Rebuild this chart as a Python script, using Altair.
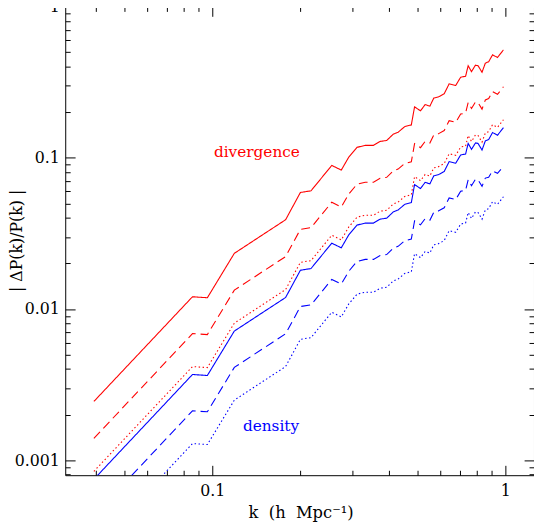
import altair as alt
import pandas as pd

# ---- data ----
k = [0.03945, 0.0856, 0.0962, 0.1189, 0.1779, 0.1998, 0.2172, 0.2556, 0.2755, 0.2921,
     0.3118, 0.3325, 0.3548, 0.3737, 0.3936, 0.4143, 0.4305, 0.4535, 0.4776, 0.4899,
     0.5133, 0.5324, 0.5525, 0.5700, 0.5902, 0.6183, 0.6428, 0.6769, 0.7037, 0.7315,
     0.7464, 0.7663, 0.7906, 0.8066, 0.8322, 0.8543, 0.8768, 0.9042, 0.9400, 0.9847]

div_solid = [0.002444, 0.01205, 0.01187, 0.02336, 0.03898, 0.05904, 0.06058, 0.08919, 0.08308, 0.1011,
             0.1175, 0.1211, 0.1211, 0.1286, 0.1305, 0.1435, 0.1479, 0.1611, 0.1653, 0.2178,
             0.2050, 0.2254, 0.2201, 0.2492, 0.2530, 0.2659, 0.3091, 0.3017, 0.3420, 0.3471,
             0.4078, 0.3725, 0.4115, 0.4078, 0.3687, 0.4240, 0.4330, 0.4813, 0.4621, 0.5188]

div_dashed = [0.001392, 0.006873, 0.006771, 0.01333, 0.02223, 0.03368, 0.03456, 0.05087, 0.04739, 0.05767,
              0.06702, 0.06908, 0.06908, 0.07335, 0.07444, 0.08185, 0.08436, 0.09189, 0.09429, 0.1242,
              0.1169, 0.1286, 0.1255, 0.1421, 0.1443, 0.1517, 0.1763, 0.1721, 0.1951, 0.1980,
              0.2326, 0.2125, 0.2347, 0.2326, 0.2103, 0.2419, 0.2470, 0.2745, 0.2636, 0.2959]

div_dotted = [0.000842, 0.004157, 0.004095, 0.008059, 0.01345, 0.02037, 0.02090, 0.03077, 0.02866, 0.03488,
              0.04054, 0.04178, 0.04178, 0.04437, 0.04502, 0.04951, 0.05103, 0.05558, 0.05703, 0.07514,
              0.07073, 0.07776, 0.07594, 0.08597, 0.08729, 0.09174, 0.1066, 0.1041, 0.1180, 0.1198,
              0.1407, 0.1285, 0.1420, 0.1407, 0.1272, 0.1463, 0.1494, 0.1660, 0.1594, 0.1790]

den_solid = [0.000746, 0.003685, 0.003630, 0.007143, 0.01192, 0.01805, 0.01853, 0.02727, 0.02541, 0.03092,
             0.03593, 0.03703, 0.03703, 0.03933, 0.03991, 0.04388, 0.04523, 0.04926, 0.05055, 0.06660,
             0.06269, 0.06893, 0.06731, 0.07621, 0.07737, 0.08131, 0.09452, 0.09226, 0.1046, 0.1061,
             0.1247, 0.1139, 0.1258, 0.1247, 0.1127, 0.1297, 0.1324, 0.1472, 0.1413, 0.1586]

den_dashed = [0.000429, 0.002118, 0.002087, 0.004107, 0.006853, 0.01038, 0.01065, 0.01568, 0.01461, 0.01777,
              0.02066, 0.02129, 0.02129, 0.02261, 0.02294, 0.02523, 0.02600, 0.02832, 0.02906, 0.03829,
              0.03604, 0.03963, 0.03869, 0.04381, 0.04448, 0.04675, 0.05434, 0.05304, 0.06012, 0.06102,
              0.07169, 0.06549, 0.07234, 0.07169, 0.06482, 0.07354, 0.07452, 0.08201, 0.07904, 0.08781]

den_dotted = [0.000260, 0.001286, 0.001267, 0.002493, 0.004159, 0.006300, 0.006464, 0.009517, 0.008865, 0.01079,
              0.01254, 0.01292, 0.01292, 0.01372, 0.01392, 0.01531, 0.01578, 0.01719, 0.01764, 0.02324,
              0.02187, 0.02405, 0.02349, 0.02659, 0.02700, 0.02837, 0.03298, 0.03219, 0.03649, 0.03704,
              0.04351, 0.03975, 0.04391, 0.04351, 0.03934, 0.04524, 0.04620, 0.05136, 0.04931, 0.05536]

series_names = ["div_solid", "div_dashed", "div_dotted", "den_solid", "den_dashed", "den_dotted"]
series_vals = [div_solid, div_dashed, div_dotted, den_solid, den_dashed, den_dotted]
series_colors = ["#ff0000", "#ff0000", "#ff0000", "#0000ff", "#0000ff", "#0000ff"]
series_dash = [[1, 0], [9, 5], [1.5, 2.5], [1, 0], [9, 5], [1.5, 2.5]]

labels_text = ["divergence", "density"]
labels_k = [0.1013, 0.1272]
labels_v = [0.1015, 0.001556]
labels_series = ["div_solid", "den_solid"]

x_major = [0.1, 1]
x_minor = [0.04, 0.05, 0.06, 0.07, 0.08, 0.09, 0.2, 0.3, 0.4, 0.5, 0.6, 0.7, 0.8, 0.9]
y_major = [0.001, 0.01, 0.1, 1]
y_minor = [0.0008, 0.0009, 0.002, 0.003, 0.004, 0.005, 0.006, 0.007, 0.008, 0.009,
           0.02, 0.03, 0.04, 0.05, 0.06, 0.07, 0.08, 0.09,
           0.2, 0.3, 0.4, 0.5, 0.6, 0.7, 0.8, 0.9]

rows = []
for name, vals in zip(series_names, series_vals):
    for kk, vv in zip(k, vals):
        rows.append({"k": kk, "v": vv, "series": name})
df = pd.DataFrame(rows)
tdf = pd.DataFrame({"k": labels_k, "v": labels_v, "label": labels_text, "series": labels_series})

FONT = "DejaVu Serif"
NB = "\u00a0"
xs = alt.Scale(type="log", domain=[0.0315, 1.252], nice=False)
ys = alt.Scale(type="log", domain=[0.000794, 1.006], nice=False)
cscale = alt.Scale(domain=series_names, range=series_colors)
dscale = alt.Scale(domain=series_names, range=series_dash)


def tick_axis(orient, values, size):
    return alt.Axis(orient=orient, values=values, tickSize=size, offset=-size, domain=False,
                    grid=False, labels=False, ticks=True, tickColor="black", tickWidth=1,
                    title=None)


x_main = alt.Axis(orient="bottom", values=x_major, tickSize=10, offset=-10, domain=False, grid=False,
                  tickColor="black", tickWidth=1, format="~g", labelFont=FONT, labelFontSize=16,
                  labelColor="black", labelPadding=8, labelFlush=False, labelOverlap=False,
                  title="k" + NB * 2 + "(h" + NB * 2 + "Mpc⁻¹)", titleFont=FONT, titleFontSize=16.5,
                  titleFontWeight="normal",
                  titleColor="black", titleBaseline="alphabetic", titleAlign="center",
                  titleX=238.5, titleY=52.5)
y_main = alt.Axis(orient="left", values=y_major, tickSize=10, offset=-10, domain=False, grid=False,
                  tickColor="black", tickWidth=1, format="~g", labelFont=FONT, labelFontSize=16,
                  labelColor="black", labelPadding=6, labelFlush=False, labelOverlap=False,
                  title="| ΔP(k)/P(k) |", titleFont=FONT, titleFontSize=16, titleFontWeight="normal",
                  titleColor="black", titleBaseline="alphabetic", titleAlign="center",
                  titleAngle=270, titleX=-54, titleY=237)

lines = alt.Chart(df).mark_line(clip=True, strokeWidth=1.1).encode(
    x=alt.X("k:Q", scale=xs, axis=x_main),
    y=alt.Y("v:Q", scale=ys, axis=y_main),
    color=alt.Color("series:N", scale=cscale, legend=None),
    strokeDash=alt.StrokeDash("series:N", scale=dscale, legend=None),
    detail="series:N",
)

minor_bl = alt.Chart(df).mark_point(opacity=0).encode(
    x=alt.X("k:Q", scale=xs, axis=tick_axis("bottom", x_minor, 5)),
    y=alt.Y("v:Q", scale=ys, axis=tick_axis("left", y_minor, 5)),
)
major_tr = alt.Chart(df).mark_point(opacity=0).encode(
    x=alt.X("k:Q", scale=xs, axis=tick_axis("top", x_major, 10)),
    y=alt.Y("v:Q", scale=ys, axis=tick_axis("right", y_major, 10)),
)
minor_tr = alt.Chart(df).mark_point(opacity=0).encode(
    x=alt.X("k:Q", scale=xs, axis=tick_axis("top", x_minor, 5)),
    y=alt.Y("v:Q", scale=ys, axis=tick_axis("right", y_minor, 5)),
)

texts = alt.Chart(tdf).mark_text(align="left", baseline="alphabetic", font=FONT, fontSize=15.5).encode(
    x=alt.X("k:Q", scale=xs, axis=None),
    y=alt.Y("v:Q", scale=ys, axis=None),
    text="label:N",
    color=alt.Color("series:N", scale=cscale, legend=None),
)

chart = alt.layer(lines, minor_bl, major_tr, minor_tr, texts).resolve_axis(
    x="independent", y="independent"
).properties(
    width=475, height=475,
    autosize=alt.AutoSizeParams(type="none"),
    padding={"left": 58, "top": -5, "right": 0, "bottom": 45},
    background="white",
).configure_view(stroke="black", strokeWidth=1)

chart.save("out.html", embed_options={"renderer": "svg", "actions": False})
